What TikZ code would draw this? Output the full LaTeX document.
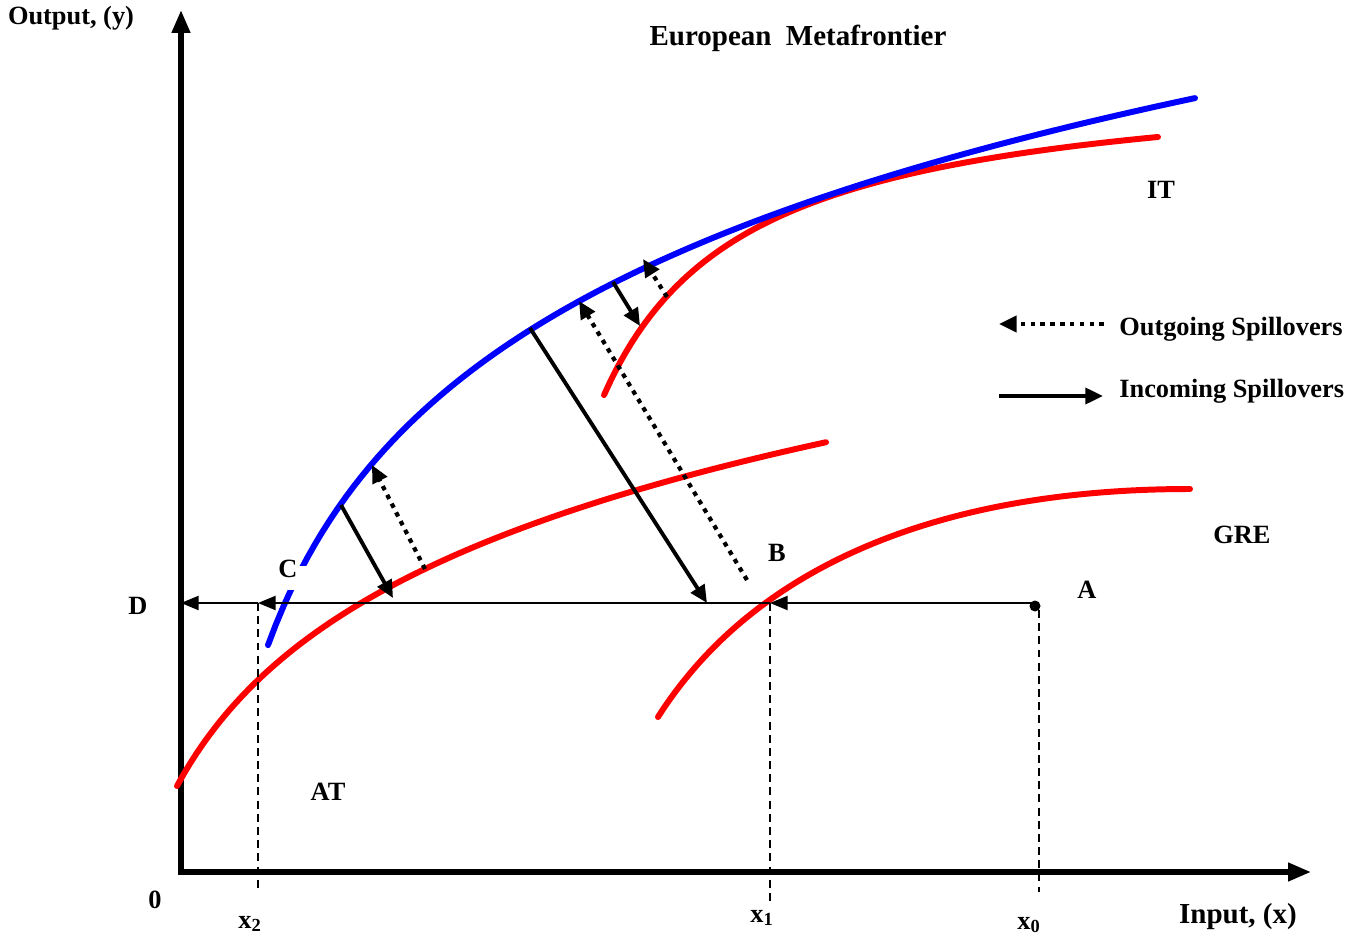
\documentclass[tikz,border=0pt]{standalone}
\usepackage{fontspec}
\setmainfont{Liberation Serif}
\usetikzlibrary{arrows.meta}
\begin{document}
\begin{tikzpicture}[x=0.02cm,y=-0.02cm,
  lbl/.style={font=\fontsize{15}{17}\selectfont\bfseries, inner sep=0pt},
  axis/.style={line width=3pt, -{Triangle[length=13pt,width=10pt]}},
  frontier/.style={line width=3.4pt, line cap=round},
  inc/.style={line width=2.2pt, -{Triangle[length=10pt,width=9pt]}},
  outg/.style={line width=2.4pt, dash pattern=on 2.6pt off 3pt, -{Triangle[length=10pt,width=9pt]}},
  hline/.style={line width=1.1pt, -{Triangle[length=10pt,width=8pt]}},
  vdash/.style={line width=0.7pt, dash pattern=on 4.5pt off 3pt}]
\useasboundingbox (0,0) rectangle (1366,939);
% axes
\coordinate (O) at (181,872);
\coordinate (ytop) at (181,10);
\coordinate (xend) at (1311,872);
\draw[axis] (181,875) -- (ytop);
\draw[axis] (178,872) -- (xend);
% frontiers
\draw[frontier, red] plot[domain=604:1158, samples=100] (\x, {69.9+100*(468.2/(\x-460))});
\draw[frontier, blue] plot[domain=268:1195, samples=120] (\x, {1577.4-214*ln(\x-190)});
\draw[frontier, red] plot[domain=177:826, samples=100] (\x, {1505-161*ln(\x-90)});
\draw[frontier, red] (658,717) .. controls (754,566) and (940,489) .. (1190,489);
% key points
\coordinate (A) at (1035,606);
\coordinate (X1) at (770,603);
\coordinate (X2) at (258,603);
\coordinate (D) at (181,603);
\coordinate (x0b) at (1039,892);
\coordinate (x1b) at (770,905);
\coordinate (x2b) at (258,892);
\draw[vdash] (1039,610) -- (x0b);
\draw[vdash] (X1) -- (x1b);
\draw[vdash] (X2) -- (x2b);
\draw[hline] (1035,603) -- (X1);
\draw[hline] (X1) -- (X2);
\draw[hline] (X2) -- (D);
\fill (A) circle (5.5);
% spillover arrows
\coordinate (s1a) at (341,505); \coordinate (s1b) at (393,598);
\coordinate (o1a) at (425,569); \coordinate (o1b) at (372,465);
\coordinate (s2a) at (530,328); \coordinate (s2b) at (707,603);
\coordinate (o2a) at (747,580); \coordinate (o2b) at (579,301);
\coordinate (s3a) at (613,282); \coordinate (s3b) at (640,326);
\coordinate (o3a) at (667,297); \coordinate (o3b) at (643,259);
\draw[inc] (s1a) -- (s1b);
\draw[outg] (o1a) -- (o1b);
\draw[inc] (s2a) -- (s2b);
\draw[outg] (o2a) -- (o2b);
\draw[inc] (s3a) -- (s3b);
\draw[outg] (o3a) -- (o3b);
% legend
\coordinate (l1a) at (1104,324); \coordinate (l1b) at (999,324);
\coordinate (l2a) at (999,396); \coordinate (l2b) at (1103,396);
\draw[outg] (l1a) -- (l1b);
\draw[inc] (l2a) -- (l2b);
\node[lbl, anchor=west] (tout) at (1119,329) {Outgoing Spillovers};
\node[lbl, anchor=west] (tinc) at (1119,391) {Incoming Spillovers};
% labels
\fill[white] (272,566) rectangle (310,590);
\node[lbl] (lC) at (288,569) {C};
\node[lbl] (ylab) at (71,18) {Output, (y)};
\node[lbl, font=\fontsize{16.5}{18}\selectfont\bfseries] (title) at (798,38) {European\hspace{0.5em}Metafrontier};
\node[lbl] (IT) at (1161,190) {IT};
\node[lbl] (GRE) at (1242,535) {GRE};
\node[lbl] (AT) at (328,792) {AT};
\node[lbl] (lA) at (1087,590) {A};
\node[lbl] (lB) at (777,553) {B};
\node[lbl] (lD) at (138,606) {D};
\node[lbl] (l0) at (155,900) {0};
\node[lbl] (lx2) at (250,924) {x\textsubscript{2}};
\node[lbl] (lx1) at (762,918) {x\textsubscript{1}};
\node[lbl] (lx0) at (1029,925) {x\textsubscript{0}};
\node[lbl, font=\fontsize{16.5}{18}\selectfont\bfseries] (xlab) at (1238,917) {Input, (x)};
\end{tikzpicture}
\end{document}
